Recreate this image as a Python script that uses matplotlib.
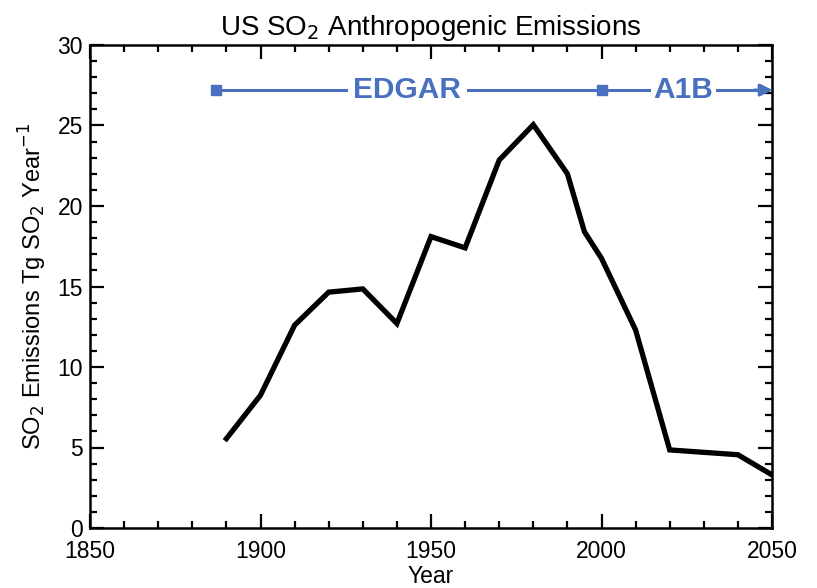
import matplotlib.pyplot as plt
from matplotlib.ticker import MultipleLocator

plt.rcParams['font.family'] = ['Liberation Sans', 'DejaVu Sans']

years = [1890, 1900, 1910, 1920, 1930, 1940, 1950, 1960, 1970, 1980,
         1990, 1995, 2000, 2010, 2020, 2040, 2050]
emissions = [5.55, 8.25, 12.6, 14.65, 14.85, 12.7, 18.1, 17.4, 22.85, 25.05,
             22.0, 18.4, 16.75, 12.3, 4.85, 4.55, 3.3]

edgar_span = [1887, 2000]
a1b_span = [2000, 2050]
span_level = 27.2
blue = '#4a70c0'

fig = plt.figure(figsize=(8.17, 5.88), dpi=100)
ax = fig.add_axes([90/817, 1 - 528/588, (772 - 90)/817, (528 - 45)/588])

ax.plot(years, emissions, color='black', lw=3.8, solid_joinstyle='miter')

# period annotation
ax.plot(edgar_span, [span_level]*2, color=blue, lw=2.2)
ax.plot(a1b_span[:1] + [a1b_span[1] - 2], [span_level]*2, color=blue, lw=2.2)
ax.plot([edgar_span[0], a1b_span[0]], [span_level]*2, 's', color=blue, ms=7)
ax.annotate('', xy=(a1b_span[1] + 1, span_level), xytext=(a1b_span[1] - 6, span_level),
            arrowprops=dict(arrowstyle='-|>', color=blue, lw=2.2, mutation_scale=18),
            annotation_clip=False)
ax.text(1943, span_level, 'EDGAR', color=blue, fontsize=21.5, fontweight='bold',
        ha='center', va='center',
        bbox=dict(facecolor='white', edgecolor='none', pad=4))
ax.text(2024, span_level, 'A1B', color=blue, fontsize=21.5, fontweight='bold',
        ha='center', va='center',
        bbox=dict(facecolor='white', edgecolor='none', pad=2))

ax.set_xlim(1850, 2050)
ax.set_ylim(0, 30)
ax.xaxis.set_major_locator(MultipleLocator(50))
ax.xaxis.set_minor_locator(MultipleLocator(10))
ax.yaxis.set_major_locator(MultipleLocator(5))
ax.yaxis.set_minor_locator(MultipleLocator(1))
ax.tick_params(which='both', direction='in', top=True, right=True,
               width=1.6, labelsize=16.5)
ax.tick_params(which='major', length=10)
ax.tick_params(which='minor', length=5)
ax.tick_params(axis='x', which='major', pad=9)
ax.tick_params(axis='y', which='major', pad=5)
for s in ax.spines.values():
    s.set_linewidth(1.8)

ax.set_title('US SO$_2$ Anthropogenic Emissions', fontsize=20, pad=7)
ax.set_xlabel('Year', fontsize=16.5, labelpad=1)
ax.set_ylabel('SO$_2$ Emissions Tg SO$_2$ Year$^{-1}$', fontsize=17, labelpad=6)

fig.savefig('out.png', dpi=100)
